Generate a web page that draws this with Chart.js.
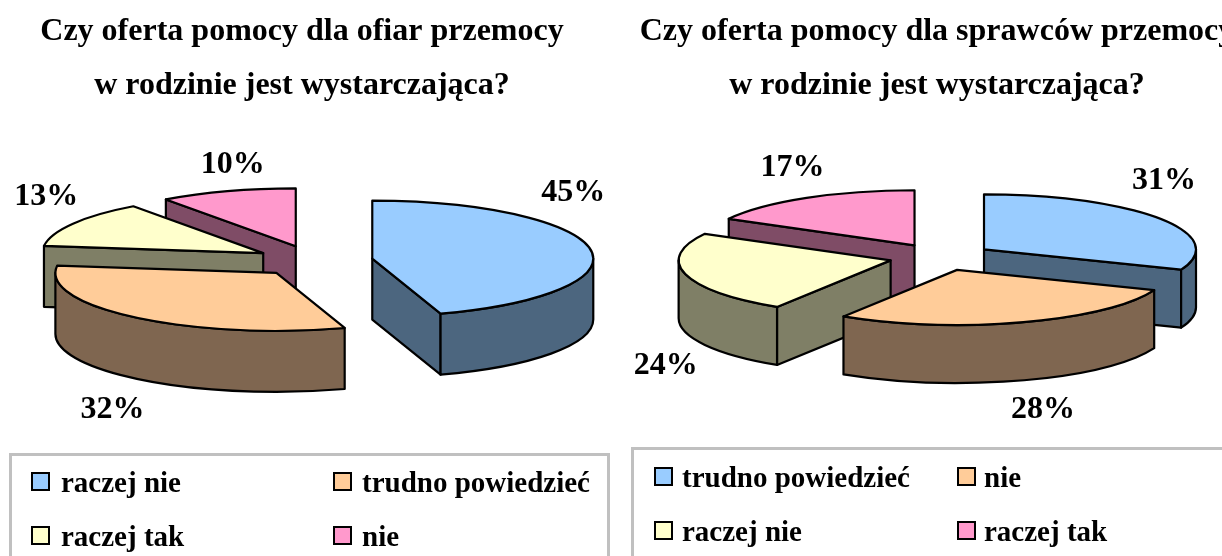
<!DOCTYPE html>
<html><head><meta charset="utf-8">
<script src="https://cdn.jsdelivr.net/npm/chart.js@4"></script>
<style>
html,body{margin:0;padding:0;background:#fff;width:1222px;height:556px;overflow:hidden;position:relative}
canvas{position:absolute;top:0}
.lg{position:absolute;box-sizing:border-box;border:3px solid #c0c0c0;height:140px;font:bold 29px "Liberation Serif",serif;color:#000}
.it{position:absolute;white-space:nowrap;line-height:32px;height:32px}
.sw{position:absolute;width:15px;height:15px;border:2px solid #000;box-sizing:content-box}
</style></head><body>
<canvas id="c1" style="left:0" width="604" height="556"></canvas>
<canvas id="c2" style="left:632px" width="610" height="556"></canvas>
<div id="l1" class="lg" style="left:9px;top:453px;width:601px"></div>
<div id="l2" class="lg" style="left:631px;top:447px;width:620px"></div>
<script>
const titleLeft = ["Czy oferta pomocy dla ofiar przemocy", "w rodzinie jest wystarczająca?"];
const titleRight = ["Czy oferta pomocy dla sprawców przemocy", "w rodzinie jest wystarczająca?"];
const categoriesLeft = ["raczej nie", "trudno powiedzieć", "raczej tak", "nie"];
const categoriesRight = ["trudno powiedzieć", "nie", "raczej nie", "raczej tak"];
const valuesLeft = [45, 32, 13, 10];
const valuesRight = [31, 28, 24, 17];
const faceColors = ["#99CCFF", "#FFCC99", "#FFFFCC", "#FF99CC"];
const wallColors = ["#4C667F", "#7F6650", "#7F7F66", "#7F4C66"];

const FONT = '"Liberation Serif", serif';

const pie3d = {
  id: 'pie3d',
  beforeDatasetsDraw(chart, args, o) {
    const ctx = chart.ctx;
    const arcs = chart.getDatasetMeta(0).data;
    const k = o.squash, d = o.explode, h = o.depth, sx = o.shiftX;
    const mids = arcs.map(a => (a.startAngle + a.endAngle) / 2);
    const order = arcs.map((a, i) => i).sort((p, q) => Math.sin(mids[p]) - Math.sin(mids[q]));
    ctx.save();
    ctx.lineWidth = 2.2;
    ctx.lineJoin = 'round';
    ctx.strokeStyle = '#000';
    for (const i of order) {
      const a = arcs[i], R = a.outerRadius;
      const X = a.x + sx + d * Math.cos(mids[i]);
      const Y = a.y + k * d * Math.sin(mids[i]);
      const s = a.startAngle, e = a.endAngle;
      const pt = t => [X + R * Math.cos(t), Y + k * R * Math.sin(t)];
      ctx.fillStyle = wallColors[i];
      const wall = t => {
        const p = pt(t);
        ctx.beginPath();
        ctx.moveTo(X, Y); ctx.lineTo(p[0], p[1]);
        ctx.lineTo(p[0], p[1] + h); ctx.lineTo(X, Y + h);
        ctx.closePath(); ctx.fill(); ctx.stroke();
      };
      if (-Math.cos(s) > 1e-6) wall(s);
      if (Math.cos(e) > 1e-6) wall(e);
      const a0 = Math.max(s, 0), a1 = Math.min(e, Math.PI);
      if (a1 > a0) {
        ctx.beginPath();
        ctx.ellipse(X, Y, R, k * R, 0, a0, a1);
        ctx.ellipse(X, Y + h, R, k * R, 0, a1, a0, true);
        ctx.closePath(); ctx.fill(); ctx.stroke();
      }
      ctx.save();
      ctx.translate(X, Y);
      ctx.scale(1, k);
      ctx.translate(-a.x, -a.y);
      a.draw(ctx);
      ctx.restore();
      ctx.beginPath();
      ctx.moveTo(X, Y);
      ctx.ellipse(X, Y, R, k * R, 0, s, e);
      ctx.closePath(); ctx.stroke();
    }
    ctx.fillStyle = '#000';
    ctx.font = 'bold 32px ' + FONT;
    ctx.textAlign = 'center';
    ctx.textBaseline = 'middle';
    arcs.forEach((a, i) => {
      const X = a.x + sx + d * Math.cos(mids[i]);
      const Y = a.y + k * d * Math.sin(mids[i]);
      const n = o.labelNudge[i];
      ctx.fillText(chart.data.datasets[0].data[i] + '%', X + n[0], Y + n[1]);
    });
    ctx.restore();
    return false;
  }
};

function makeChart(id, title, labels, values, radius, padding, p3d) {
  return new Chart(document.getElementById(id), {
    type: 'pie',
    data: { labels, datasets: [{ data: values, backgroundColor: faceColors, borderWidth: 0 }] },
    plugins: [pie3d],
    options: {
      responsive: false, animation: false, radius,
      layout: { padding },
      plugins: {
        legend: { display: false }, tooltip: { enabled: false },
        title: { display: true, text: title, color: '#000',
          font: { family: FONT, size: 32, weight: 'bold', lineHeight: 1.6875 },
          padding: { top: 5, bottom: 0 } },
        pie3d: p3d
      }
    }
  });
}
makeChart('c1', titleLeft, categoriesLeft, valuesLeft, 221, { bottom: 147 },
  { shiftX: 12, squash: 0.262, explode: 59, depth: 61, labelNudge: [[201, -66], [-164, 137], [-217, -56], [-63, -82]] });
makeChart('c2', titleRight, categoriesRight, valuesRight, 212, { bottom: 155 },
  { shiftX: 4, squash: 0.26, explode: 52, depth: 58, labelNudge: [[180, -69], [86, 140], [-225, 105], [-122, -78]] });

function legend(el, labels, col2Sw, col2Tx, sw1, tx1, rowY) {
  labels.forEach((t, i) => {
    const c = i % 2, r = Math.floor(i / 2);
    const s = document.createElement('div');
    s.className = 'sw';
    s.style.cssText = `left:${c ? col2Sw : sw1}px;top:${rowY[r]}px;background:${faceColors[i]}`;
    const x = document.createElement('div');
    x.className = 'it';
    x.textContent = t;
    x.style.cssText = `left:${c ? col2Tx : tx1}px;top:${rowY[r] - 6}px`;
    el.appendChild(s); el.appendChild(x);
  });
}
legend(document.getElementById('l1'), categoriesLeft, 321, 350, 19, 49, [16, 70]);
legend(document.getElementById('l2'), categoriesRight, 323, 350, 20, 48, [17, 71]);
</script>
</body></html>
